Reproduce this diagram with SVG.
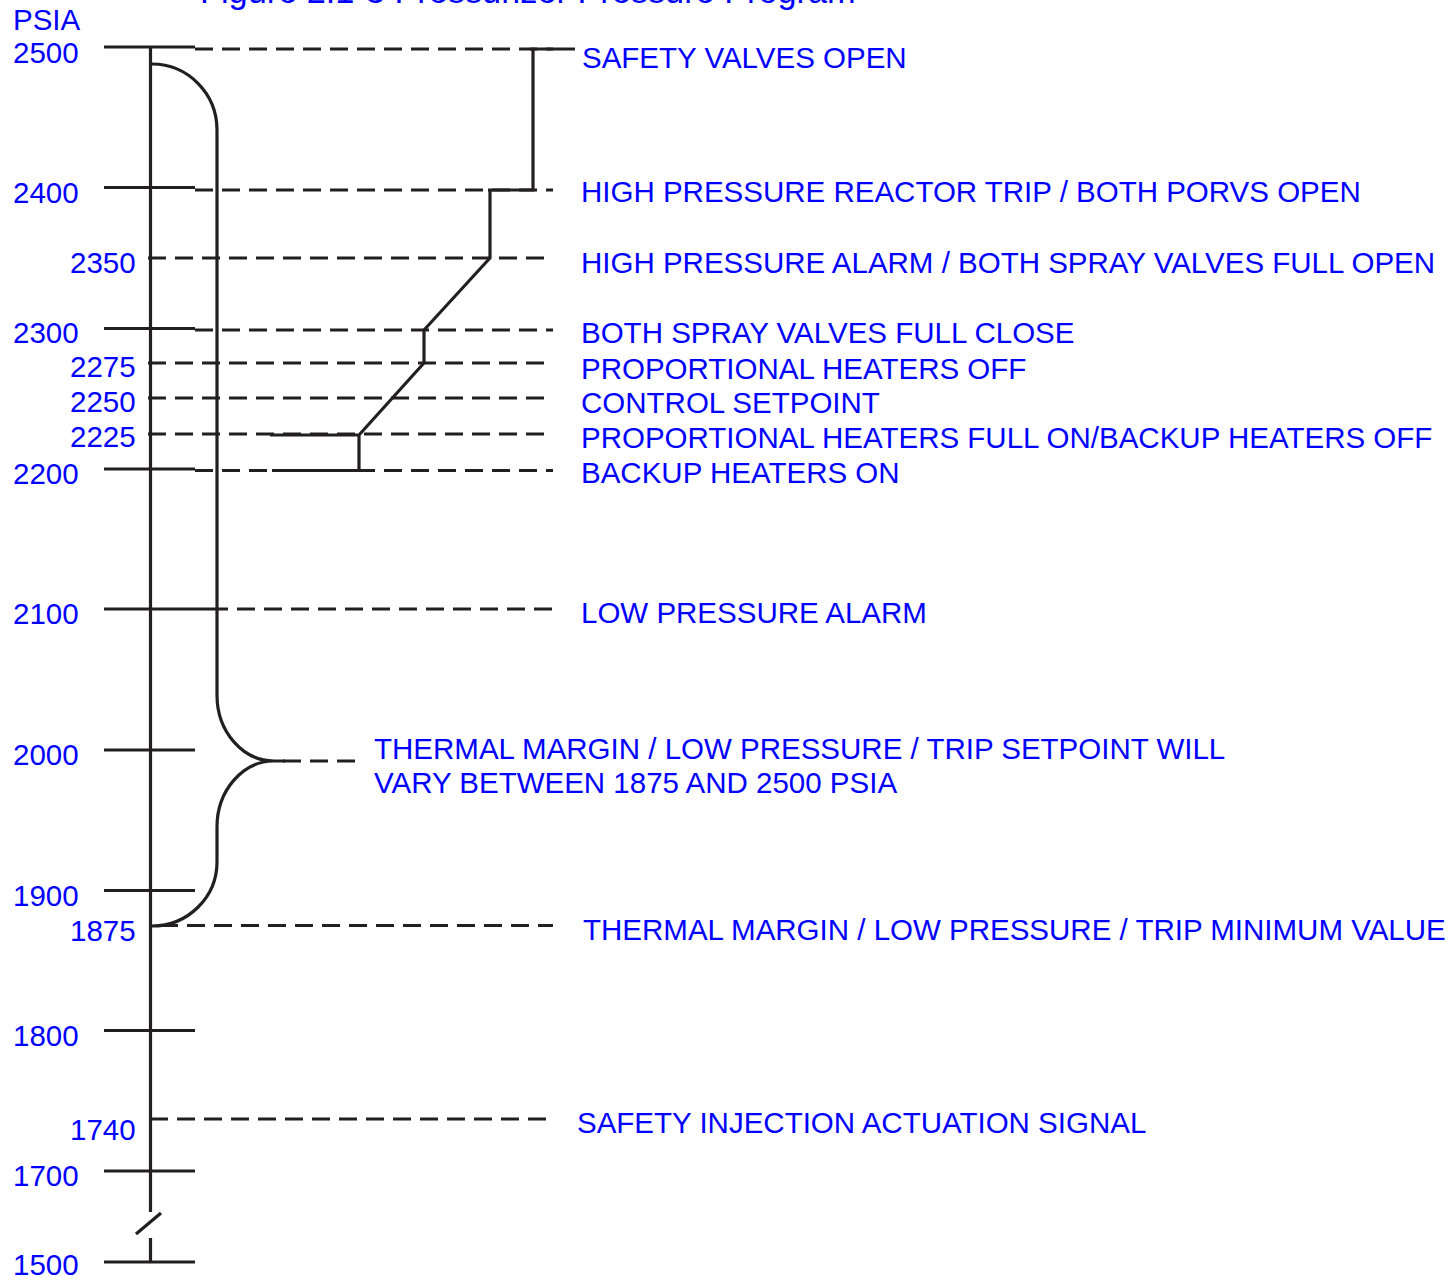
<svg xmlns="http://www.w3.org/2000/svg" width="1448" height="1281" viewBox="0 0 1448 1281">
<style>
text{font-family:"Liberation Sans",Arial,sans-serif;font-size:29.5px;fill:#0000ff}
.title{font-size:34.3px}
.s{stroke:#231f20;stroke-width:3.2;fill:none}
.d{stroke:#231f20;stroke-width:3.2;fill:none;stroke-dasharray:18 9}
</style>
<rect width="1448" height="1281" fill="#ffffff"/>
<text id="title" class="title" x="200" y="3">Figure 2.1-3 Pressurizer Pressure Program</text>
<g id="axis">
<text x="13" y="30">PSIA</text>
<path class="s" d="M150.5,46V1212M150.5,1238V1263M136,1234L161,1213"/>
<path class="s" d="M104,47H195M104,187.5H195M104,328.5H195M104,469H195M104,609H210M104,750H195M104,890.5H195M104,1030.5H195M104,1171H195M104,1262H195"/>
<text x="13" y="63">2500</text>
<text x="13" y="203">2400</text>
<text x="70" y="273">2350</text>
<text x="13" y="343">2300</text>
<text x="70" y="377">2275</text>
<text x="70" y="412">2250</text>
<text x="70" y="447">2225</text>
<text x="13" y="484">2200</text>
<text x="13" y="624">2100</text>
<text x="13" y="765">2000</text>
<text x="13" y="906">1900</text>
<text x="70" y="941">1875</text>
<text x="13" y="1046">1800</text>
<text x="70" y="1140">1740</text>
<text x="13" y="1186">1700</text>
<text x="13" y="1275">1500</text>
</g>
<g id="connectors">
<path class="d" d="M195,49H553M195,190H553M148,258H553M195,330H553M148,363H553M148,398H553M148,434H553M195,470.5H553M210,609H553M160,925.5H553M150,1119H553M283,761H356"/>
<path class="s" d="M530,49H575M533,49V190H488M490,190V258L424,330V363L359,435V470.5M270,435H359M272,470.5H359"/>
<path class="s" d="M152,64A65,66 0 0 1 217,130V695A57,66 0 0 0 274,761A57,66 0 0 0 217,827V862A65,64 0 0 1 152,926M274,761H285"/>
</g>
<g id="labels">
<text id="n2500" x="582" y="68">SAFETY VALVES OPEN</text>
<text id="n2400" x="581" y="202">HIGH PRESSURE REACTOR TRIP / BOTH PORVS OPEN</text>
<text id="n2350" x="581" y="273">HIGH PRESSURE ALARM / BOTH SPRAY VALVES FULL OPEN</text>
<text id="n2300" x="581" y="343">BOTH SPRAY VALVES FULL CLOSE</text>
<text id="n2275" x="581" y="379">PROPORTIONAL HEATERS OFF</text>
<text id="n2250" x="581" y="413">CONTROL SETPOINT</text>
<text id="n2225" x="581" y="448">PROPORTIONAL HEATERS FULL ON/BACKUP HEATERS OFF</text>
<text id="n2200" x="581" y="483">BACKUP HEATERS ON</text>
<text id="n2100" x="581" y="623">LOW PRESSURE ALARM</text>
<g id="nTM"><text x="374" y="759">THERMAL MARGIN / LOW PRESSURE / TRIP SETPOINT WILL</text>
<text x="374" y="793">VARY BETWEEN 1875 AND 2500 PSIA</text></g>
<text id="n1875" x="583" y="940">THERMAL MARGIN / LOW PRESSURE / TRIP MINIMUM VALUE</text>
<text id="n1740" x="577" y="1133">SAFETY INJECTION ACTUATION SIGNAL</text>
</g>
</svg>
